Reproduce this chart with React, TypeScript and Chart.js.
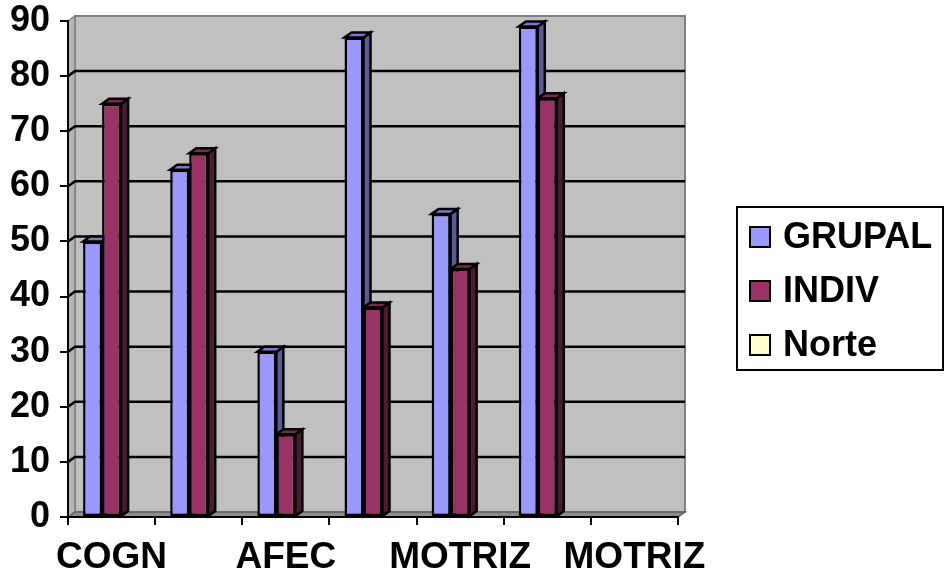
import React, { useEffect, useRef } from "react";
import { Chart, registerables } from "chart.js";

Chart.register(...registerables);

const categories = ["COGN", "", "AFEC", "", "MOTRIZ", "", "MOTRIZ"];
const grupalValues = [50, 63, 30, 87, 55, 89, null];
const indivValues = [75, 66, 15, 38, 45, 76, null];
const norteValues = [null, null, null, null, null, null, null];
const seriesLabels = ["GRUPAL", "INDIV", "Norte"];
const yMin = 0;
const yMax = 90;
const yStep = 10;

const FONT = "'Liberation Sans', Arial, sans-serif";
const DX = 7;
const DY = 5;

const frontColors = ["#9999FF", "#993366", "#FFFFCC"];
const sideColors = ["#5B5B99", "#4D1A33", "#99997A"];
const topColors = ["#7A7ACC", "#7A2952", "#CCCCA3"];

function poly(ctx: CanvasRenderingContext2D, pts: number[][], fill: string, stroke: string, lw: number) {
  ctx.beginPath();
  ctx.moveTo(pts[0][0], pts[0][1]);
  for (let i = 1; i < pts.length; i++) ctx.lineTo(pts[i][0], pts[i][1]);
  ctx.closePath();
  ctx.fillStyle = fill;
  ctx.fill();
  if (lw > 0) {
    ctx.strokeStyle = stroke;
    ctx.lineWidth = lw;
    ctx.lineJoin = "miter";
    ctx.stroke();
  }
}

const wallsPlugin = {
  id: "walls3d",
  beforeDraw(chart: any) {
    const { ctx, chartArea } = chart;
    const { left, right, top, bottom } = chartArea;
    const y = chart.scales.y;
    ctx.save();
    poly(
      ctx,
      [
        [left + DX, top - DY],
        [right + DX, top - DY],
        [right + DX, bottom - DY],
        [left + DX, bottom - DY],
      ],
      "#C0C0C0",
      "#808080",
      2
    );
    poly(
      ctx,
      [
        [left, top],
        [left + DX, top - DY],
        [left + DX, bottom - DY],
        [left, bottom],
      ],
      "#B4B4B4",
      "#808080",
      1.5
    );
    poly(
      ctx,
      [
        [left, bottom],
        [left + DX, bottom - DY],
        [right + DX, bottom - DY],
        [right, bottom],
      ],
      "#8C8C8C",
      "#606060",
      1.5
    );
    ctx.strokeStyle = "#000000";
    ctx.lineWidth = 2.5;
    y.ticks.forEach((t: any) => {
      if (t.value <= yMin || t.value >= yMax) return;
      const py = y.getPixelForValue(t.value);
      ctx.beginPath();
      ctx.moveTo(left, py);
      ctx.lineTo(left + DX, py - DY);
      ctx.lineTo(right + DX, py - DY);
      ctx.stroke();
    });
    ctx.restore();
  },
  beforeDatasetsDraw(chart: any) {
    const { ctx } = chart;
    ctx.save();
    for (let i = 0; i < categories.length; i++) {
      chart.data.datasets.forEach((ds: any, di: number) => {
        const v = ds.data[i];
        if (v === null || v === undefined) return;
        const meta = chart.getDatasetMeta(di);
        const el = meta.data[i];
        if (!el) return;
        const L = el.x - el.width / 2;
        const R = el.x + el.width / 2;
        const T = el.y;
        const B = el.base;
        poly(ctx, [[R, T], [R + DX, T - DY], [R + DX, B - DY], [R, B]], sideColors[di], "#000", 2.5);
        poly(ctx, [[L, T], [L + DX, T - DY], [R + DX, T - DY], [R, T]], topColors[di], "#000", 2.5);
      });
    }
    ctx.restore();
  },
};

const legendPlugin = {
  id: "boxedLegend",
  afterDraw(chart: any) {
    const { ctx } = chart;
    const bx = 737;
    const by = 207;
    const bw = 206;
    const bh = 163;
    ctx.save();
    ctx.fillStyle = "#FFFFFF";
    ctx.fillRect(bx, by, bw, bh);
    ctx.strokeStyle = "#000000";
    ctx.lineWidth = 2;
    ctx.strokeRect(bx, by, bw, bh);
    ctx.font = `bold 36px ${FONT}`;
    ctx.textBaseline = "middle";
    ctx.textAlign = "left";
    chart.data.datasets.forEach((ds: any, di: number) => {
      const cy = 237 + di * 54;
      ctx.fillStyle = ds.backgroundColor;
      ctx.fillRect(750, cy - 10, 20, 20);
      ctx.lineWidth = 2;
      ctx.strokeStyle = "#000";
      ctx.strokeRect(750, cy - 10, 20, 20);
      ctx.fillStyle = "#000";
      ctx.fillText(ds.label, 783, cy + 1);
    });
    ctx.restore();
  },
};

export default function App() {
  const ref = useRef<HTMLCanvasElement | null>(null);
  useEffect(() => {
    if (!ref.current) return;
    const values = [grupalValues, indivValues, norteValues];
    const chart = new Chart(ref.current, {
      type: "bar",
      data: {
        labels: categories,
        datasets: values.map((d, i) => ({
          label: seriesLabels[i],
          data: d,
          backgroundColor: frontColors[i],
          borderColor: "#000000",
          borderWidth: 2.5,
          borderSkipped: false,
          categoryPercentage: 0.654,
          barPercentage: 1,
        })),
      },
      options: {
        responsive: false,
        animation: false,
        devicePixelRatio: 1,
        layout: { padding: { top: 21, right: 945 - 678, left: 0, bottom: 0 } },
        plugins: {
          legend: { display: false },
          tooltip: { enabled: false },
        },
        scales: {
          x: {
            type: "category",
            offset: true,
            grid: {
              offset: true,
              drawOnChartArea: false,
              drawTicks: true,
              tickLength: 8,
              color: "#000000",
              lineWidth: 2,
            },
            border: { display: true, color: "#000000", width: 2 },
            ticks: {
              autoSkip: false,
              maxRotation: 0,
              minRotation: 0,
              padding: 11,
              color: "#000000",
              font: { family: FONT, size: 37, weight: "bold" },
            },
            afterFit(scale: any) {
              scale.height = 63;
              scale.paddingLeft = 0;
              scale.paddingRight = 0;
            },
          },
          y: {
            min: yMin,
            max: yMax,
            ticks: {
              stepSize: yStep,
              padding: 10,
              color: "#000000",
              font: { family: FONT, size: 36, weight: "bold" },
            },
            grid: {
              drawOnChartArea: false,
              drawTicks: true,
              tickLength: 8,
              color: "#000000",
              lineWidth: 2,
            },
            border: { display: true, color: "#000000", width: 2 },
            afterFit(scale: any) {
              scale.width = 68;
              scale.paddingTop = 0;
              scale.paddingBottom = 0;
            },
          },
        },
      },
      plugins: [wallsPlugin, legendPlugin],
    } as any);
    return () => chart.destroy();
  }, []);
  return (
    <div style={{ position: "absolute", left: 0, top: 0, width: 945, height: 580, background: "#FFFFFF" }}>
      <canvas ref={ref} width={945} height={580} style={{ display: "block" }} />
    </div>
  );
}
